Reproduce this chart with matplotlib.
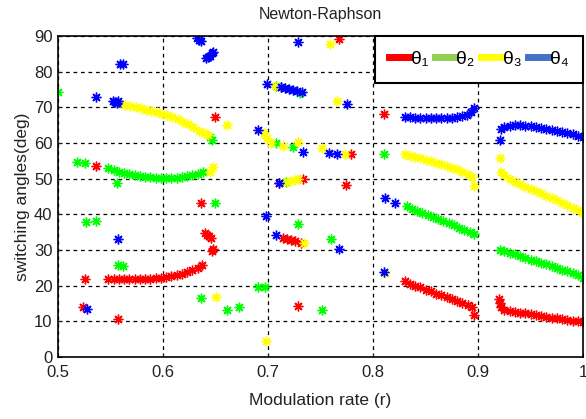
import numpy as np
import matplotlib.pyplot as plt

# ---- data (r, angle in degrees) ----
# theta1 (red)
r1 = [0.548, 0.553, 0.558, 0.563, 0.568, 0.573, 0.578, 0.583, 0.588, 0.593,
      0.598, 0.603, 0.608, 0.613, 0.618, 0.623, 0.628, 0.633, 0.637,
      0.640, 0.642, 0.644, 0.646, 0.648, 0.647,
      0.714, 0.718, 0.722, 0.726, 0.731,
      0.830, 0.835, 0.840, 0.845, 0.850, 0.855, 0.860, 0.865, 0.870, 0.875,
      0.880, 0.885, 0.890, 0.894, 0.896,
      0.920, 0.921, 0.922, 0.925, 0.930, 0.935, 0.940, 0.945, 0.950, 0.955,
      0.960, 0.965, 0.970, 0.975, 0.980, 0.985, 0.990, 0.995, 1.000,
      0.524, 0.526, 0.557, 0.536, 0.636, 0.6495, 0.710, 0.733, 0.729, 0.774,
      0.768, 0.779, 0.810, 0.712]
a1 = [21.8, 21.8, 21.8, 21.8, 21.8, 21.8, 21.8, 21.9, 22.0, 22.1,
      22.2, 22.4, 22.6, 23.0, 23.4, 23.9, 24.4, 25.0, 25.7,
      34.7, 34.2, 33.8, 33.3, 30.3, 29.6,
      33.4, 33.1, 32.8, 32.4, 31.9,
      21.3, 20.6, 20.0, 19.5, 18.9, 18.4, 17.8, 17.3, 16.8, 16.3,
      15.8, 15.2, 14.7, 14.0, 11.8,
      16.3, 15.0, 14.0, 13.3, 12.9, 12.6, 12.4, 12.2, 12.0, 11.7,
      11.5, 11.3, 11.0, 10.8, 10.6, 10.4, 10.2, 10.0, 9.8,
      14.0, 21.9, 10.7, 53.5, 43.2, 67.2, 48.8, 49.9, 14.3, 48.2,
      89.2, 56.9, 68.1, 75.7]

# theta2 (green)
r2 = [0.548, 0.553, 0.558, 0.563, 0.568, 0.573, 0.578, 0.583, 0.588, 0.593,
      0.598, 0.603, 0.608, 0.613, 0.618, 0.623, 0.628, 0.633, 0.638,
      0.832, 0.837, 0.842, 0.847, 0.852, 0.857, 0.862, 0.867, 0.872, 0.877,
      0.882, 0.887, 0.892, 0.896,
      0.921, 0.925, 0.930, 0.935, 0.940, 0.945, 0.950, 0.955, 0.960, 0.965,
      0.970, 0.975, 0.980, 0.985, 0.990, 0.995, 1.000,
      0.518, 0.526, 0.556, 0.500, 0.645, 0.647, 0.6495, 0.527, 0.536, 0.557,
      0.562, 0.636, 0.661, 0.672, 0.690, 0.697, 0.729, 0.760, 0.751, 0.810,
      0.708, 0.724, 0.717, 0.708, 0.730]
a2 = [52.9, 52.4, 52.0, 51.6, 51.3, 51.0, 50.8, 50.6, 50.4, 50.2,
      50.1, 50.1, 50.1, 50.2, 50.4, 50.7, 51.0, 51.4, 51.9,
      42.3, 41.6, 41.0, 40.4, 39.9, 39.3, 38.7, 38.1, 37.5, 36.9,
      36.3, 35.7, 35.1, 34.5,
      30.0, 29.6, 29.2, 28.8, 28.3, 27.8, 27.3, 26.9, 26.4, 26.0,
      25.5, 25.0, 24.5, 24.0, 23.5, 23.0, 22.2,
      54.8, 54.4, 48.8, 74.3, 61.7, 60.8, 43.2, 37.8, 38.1, 25.8,
      25.5, 16.5, 13.2, 14.0, 19.6, 19.6, 37.3, 33.2, 13.1, 56.9,
      60.0, 58.9, 49.2, 75.9, 74.0]

# theta3 (yellow)
r3 = [0.559, 0.564, 0.569, 0.574, 0.579, 0.584, 0.589, 0.594, 0.599, 0.604,
      0.609, 0.614, 0.619, 0.624, 0.629, 0.634, 0.639, 0.643,
      0.830, 0.835, 0.840, 0.845, 0.850, 0.855, 0.860, 0.865, 0.870, 0.875,
      0.880, 0.885, 0.890, 0.894, 0.896,
      0.922, 0.925, 0.930, 0.935, 0.940, 0.945, 0.950, 0.955, 0.960, 0.965,
      0.970, 0.975, 0.980, 0.985, 0.990, 0.995, 1.000,
      0.645, 0.648, 0.661, 0.650, 0.698, 0.696, 0.699, 0.714, 0.729, 0.751,
      0.773, 0.759, 0.766, 0.707, 0.721, 0.726, 0.729, 0.734, 0.811, 0.921,
      0.703, 0.718]
a3 = [71.2, 70.8, 70.4, 70.0, 69.7, 69.3, 69.0, 68.6, 68.2, 67.8,
      67.3, 66.7, 66.0, 65.3, 64.5, 63.4, 62.8, 62.3,
      56.9, 56.5, 56.1, 55.7, 55.3, 54.9, 54.5, 54.1, 53.6, 53.1,
      52.6, 52.0, 51.3, 50.5, 48.0,
      52.0, 51.0, 50.0, 49.2, 48.5, 47.8, 47.1, 46.5, 45.9, 45.2,
      44.6, 43.9, 43.2, 42.6, 41.9, 41.2, 40.5,
      52.0, 53.2, 65.0, 16.9, 4.5, 62.8, 61.4, 59.2, 60.2, 58.5,
      57.0, 87.8, 71.9, 76.0, 49.3, 49.6, 49.9, 32.0, 23.5, 55.7,
      60.0, 49.2]

# theta4 (blue)
r4 = [0.552, 0.554, 0.556, 0.557,
      0.712, 0.716, 0.720, 0.724, 0.728, 0.732,
      0.830, 0.835, 0.840, 0.845, 0.850, 0.855, 0.860, 0.865, 0.870, 0.875,
      0.880, 0.885, 0.889, 0.893, 0.896,
      0.922, 0.925, 0.930, 0.935, 0.940, 0.945, 0.950, 0.955, 0.960, 0.965,
      0.970, 0.975, 0.980, 0.985, 0.990, 0.995, 1.000,
      0.536, 0.559, 0.562, 0.632, 0.634, 0.636, 0.641, 0.643, 0.645, 0.647,
      0.648, 0.557, 0.528, 0.698, 0.708, 0.729, 0.699, 0.775, 0.690, 0.733,
      0.758, 0.766, 0.710, 0.768, 0.811, 0.821, 0.810, 0.921]
a4 = [71.8, 71.5, 71.3, 71.7,
      75.7, 75.5, 75.2, 74.9, 74.6, 74.3,
      67.4, 67.2, 67.1, 67.0, 67.0, 67.0, 67.0, 67.0, 67.1, 67.1,
      67.2, 67.5, 67.9, 68.7, 69.8,
      63.8, 64.5, 64.8, 65.0, 65.0, 64.9, 64.7, 64.5, 64.3, 64.0,
      63.7, 63.4, 63.1, 62.8, 62.4, 62.1, 61.7,
      72.9, 82.1, 82.1, 89.4, 89.0, 88.6, 83.8, 84.0, 84.5, 85.2,
      85.6, 33.1, 13.5, 39.5, 34.3, 88.3, 76.5, 70.9, 63.6, 57.5,
      57.2, 57.0, 48.8, 30.3, 44.6, 43.2, 23.8, 60.8]

labels = ['θ₁', 'θ₂', 'θ₃', 'θ₄']
marker_colors = ['#ff0000', '#00ff00', '#ffff00', '#0000ff']
legend_colors = ['#ff0000', '#92d050', '#ffff00', '#4472c4']

plt.rcParams['font.family'] = ['Liberation Sans', 'DejaVu Sans']

fig = plt.figure(figsize=(5.86, 4.19), dpi=100)
ax = fig.add_axes([0.099, 0.148, 0.896, 0.766])

series = [(r1, a1), (r2, a2), (r3, a3), (r4, a4)]
for (r, a), c in zip(series, marker_colors):
    ax.plot(r, a, linestyle='none', marker=(8, 2, 0), markersize=7,
            markeredgewidth=1.0, color=c)

ax.set_xlim(0.5, 1.0)
ax.set_ylim(0, 90)
ax.set_xticks([0.5, 0.6, 0.7, 0.8, 0.9, 1.0])
ax.set_xticklabels(['0.5', '0.6', '0.7', '0.8', '0.9', '1'])
ax.set_yticks(range(0, 91, 10))
ax.tick_params(direction='in', labelsize=12, length=3, colors='#222222')
ax.tick_params(axis='x', pad=6)
ax.tick_params(axis='y', pad=4)
ax.grid(True, color='black', linestyle=(0, (3, 3)), linewidth=0.9)
for s in ax.spines.values():
    s.set_linewidth(1.2)

ax.set_title('Newton-Raphson', fontsize=11.5, pad=12, color='#222222')
ax.set_xlabel('Modulation rate (r)', fontsize=12.5, labelpad=9, color='#222222')
ax.set_ylabel('switching angles(deg)', fontsize=12.5, labelpad=3, color='#222222')

handles = [plt.Line2D([], [], color=c, linewidth=5) for c in legend_colors]
leg = ax.legend(handles, labels, loc='upper right', ncol=4, fontsize=14,
                borderaxespad=0, fancybox=False, edgecolor='black',
                framealpha=1, handlelength=1.05, handletextpad=0.05,
                columnspacing=0.35, borderpad=0.75)
leg.get_frame().set_linewidth(1.5)

fig.savefig('out.png', dpi=100)
